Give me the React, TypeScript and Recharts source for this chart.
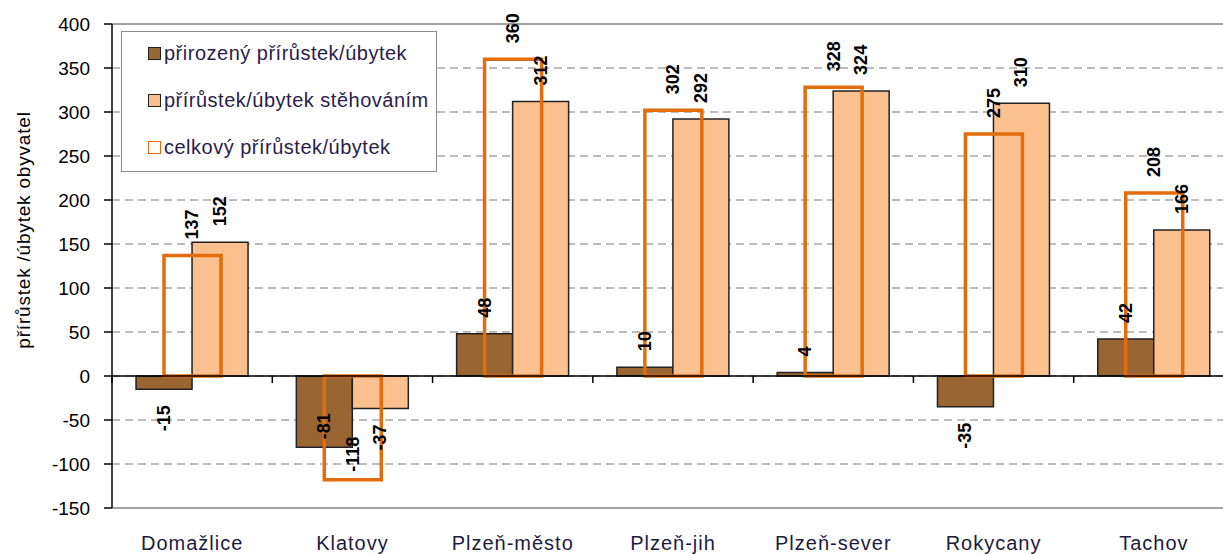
import { Bar, BarChart, CartesianGrid, LabelList, ReferenceLine, XAxis, YAxis } from 'recharts';

const districts = ['Domažlice', 'Klatovy', 'Plzeň-město', 'Plzeň-jih', 'Plzeň-sever', 'Rokycany', 'Tachov'];
const naturalChange = [-15, -81, 48, 10, 4, -35, 42];
const migrationChange = [152, -37, 312, 292, 324, 310, 166];
const totalChange = [137, -118, 360, 302, 328, 275, 208];
const yTicks = [400, 350, 300, 250, 200, 150, 100, 50, 0, -50, -100, -150];
const seriesNames = ['přirozený přírůstek/úbytek', 'přírůstek/úbytek stěhováním', 'celkový přírůstek/úbytek'];
const axisTitle = 'přírůstek /úbytek obyvatel';

const rows = districts.map((name, i) => ({
  name,
  natural: naturalChange[i],
  migration: migrationChange[i],
  total: totalChange[i],
}));

const FONT = "'Liberation Sans', Arial, sans-serif";
const CHART_W = 1240;
const CHART_H = 554;
const LEFT = 112;
const TOP = 24;
const BOTTOM_H = 46;
const RIGHT = 6;
const PLOT_W = CHART_W - LEFT - RIGHT;
const PLOT_H = CHART_H - TOP - BOTTOM_H;
const PLOT_BOTTOM = TOP + PLOT_H;
const Y_MAX = yTicks[0];
const Y_MIN = yTicks[yTicks.length - 1];
const ZERO_Y = TOP + (PLOT_H * Y_MAX) / (Y_MAX - Y_MIN);
const BAND = PLOT_W / districts.length;

const BROWN = '#996633';
const PEACH = '#FAC090';
const ORANGE = '#E46C0A';

// vertical value label; negative ones go below the bar unless they would run into the bottom
function ValueLabel(props: any) {
  const { x, y, width, height, value } = props;
  const cx = Number(x) + Number(width) / 2;
  const y1 = Number(y);
  const y2 = Number(y) + Number(height);
  const top = Math.min(y1, y2);
  const bottom = Math.max(y1, y2);
  const neg = Number(value) < 0;
  const len = String(value).length * 11;
  let py = top - 16;
  let anchor = 'start';
  if (neg) {
    if (bottom + 16 + len > PLOT_BOTTOM - 20) {
      py = bottom - 8;
    } else {
      py = bottom + 16;
      anchor = 'end';
    }
  }
  return (
    <text
      x={cx}
      y={py}
      transform={`rotate(-90 ${cx} ${py})`}
      textAnchor={anchor}
      dominantBaseline="central"
      fontFamily={FONT}
      fontSize={18}
      fontWeight="bold"
      fill="#000"
    >
      {value}
    </text>
  );
}

function CategoryTick(props: any) {
  const { x, payload } = props;
  const isLast = payload.index === districts.length - 1;
  return (
    <g>
      <line x1={x - BAND / 2} x2={x - BAND / 2} y1={ZERO_Y} y2={ZERO_Y + 7} stroke="#000" strokeWidth={1.5} />
      {isLast && <line x1={x + BAND / 2} x2={x + BAND / 2} y1={ZERO_Y} y2={ZERO_Y + 7} stroke="#000" strokeWidth={1.5} />}
      <text
        x={x}
        y={PLOT_BOTTOM + 42}
        textAnchor="middle"
        fontFamily={FONT}
        fontSize={20}
        letterSpacing={1}
        fill="#1d1b3c"
      >
        {payload.value}
      </text>
    </g>
  );
}

const swatches = [
  { background: BROWN, border: '1.5px solid #222' },
  { background: PEACH, border: '1.5px solid #222' },
  { background: '#fff', border: `1.5px solid ${ORANGE}` },
];

export default function App() {
  return (
    <div style={{ position: 'absolute', left: 0, top: 0, width: 1223, height: 554, overflow: 'hidden', background: '#fff' }}>
      <BarChart
        width={CHART_W}
        height={CHART_H}
        data={rows}
        margin={{ top: TOP, right: RIGHT, left: 0, bottom: 0 }}
        barCategoryGap="15%"
        barGap={0}
      >
        <CartesianGrid vertical={false} stroke="#a6a6a6" strokeWidth={1.5} strokeDasharray="8 5" />
        <XAxis
          dataKey="name"
          axisLine={false}
          tickLine={false}
          height={BOTTOM_H}
          interval={0}
          tick={<CategoryTick />}
        />
        <XAxis xAxisId="total" dataKey="name" hide />
        <YAxis
          width={LEFT}
          domain={[Y_MIN, Y_MAX]}
          ticks={yTicks}
          interval={0}
          axisLine={{ stroke: '#000', strokeWidth: 1.5 }}
          tickLine={{ stroke: '#000', strokeWidth: 1.5 }}
          tickSize={8}
          tickMargin={14}
          tick={{ fill: '#000', fontSize: 19, fontFamily: FONT }}
        />
        <ReferenceLine y={Y_MAX} stroke="#a0a0a0" strokeWidth={2} />
        <ReferenceLine y={Y_MIN} stroke="#a0a0a0" strokeWidth={2} />
        <Bar dataKey="natural" fill={BROWN} stroke="#222" strokeWidth={1.5} isAnimationActive={false}>
          <LabelList dataKey="natural" content={<ValueLabel />} />
        </Bar>
        <Bar dataKey="migration" fill={PEACH} stroke="#222" strokeWidth={1.5} isAnimationActive={false}>
          <LabelList dataKey="migration" content={<ValueLabel />} />
        </Bar>
        <ReferenceLine y={0} stroke="#000" strokeWidth={1.5} />
        <Bar
          dataKey="total"
          xAxisId="total"
          barSize={57}
          fill="none"
          stroke={ORANGE}
          strokeWidth={3.5}
          isAnimationActive={false}
        >
          <LabelList dataKey="total" content={<ValueLabel />} />
        </Bar>
      </BarChart>

      <div
        style={{
          position: 'absolute',
          left: 121,
          top: 31,
          width: 314,
          height: 139,
          border: '1.5px solid #8c8c8c',
          background: '#fff',
          fontFamily: FONT,
          fontSize: 20,
          color: '#2a1d4a',
        }}
      >
        {seriesNames.map((name, i) => (
          <div
            key={name}
            style={{ position: 'absolute', left: 26, top: 10 + i * 47, display: 'flex', alignItems: 'center', whiteSpace: 'nowrap', letterSpacing: 0.5 }}
          >
            <span style={{ display: 'inline-block', width: 11, height: 11, marginRight: 3, ...swatches[i] }} />
            <span>{name}</span>
          </div>
        ))}
      </div>

      <div
        style={{
          position: 'absolute',
          left: 24,
          top: 230,
          transform: 'translate(-50%, -50%) rotate(-90deg)',
          whiteSpace: 'nowrap',
          fontFamily: FONT,
          fontSize: 19,
          letterSpacing: 0.8,
          color: '#000',
        }}
      >
        {axisTitle}
      </div>
    </div>
  );
}
